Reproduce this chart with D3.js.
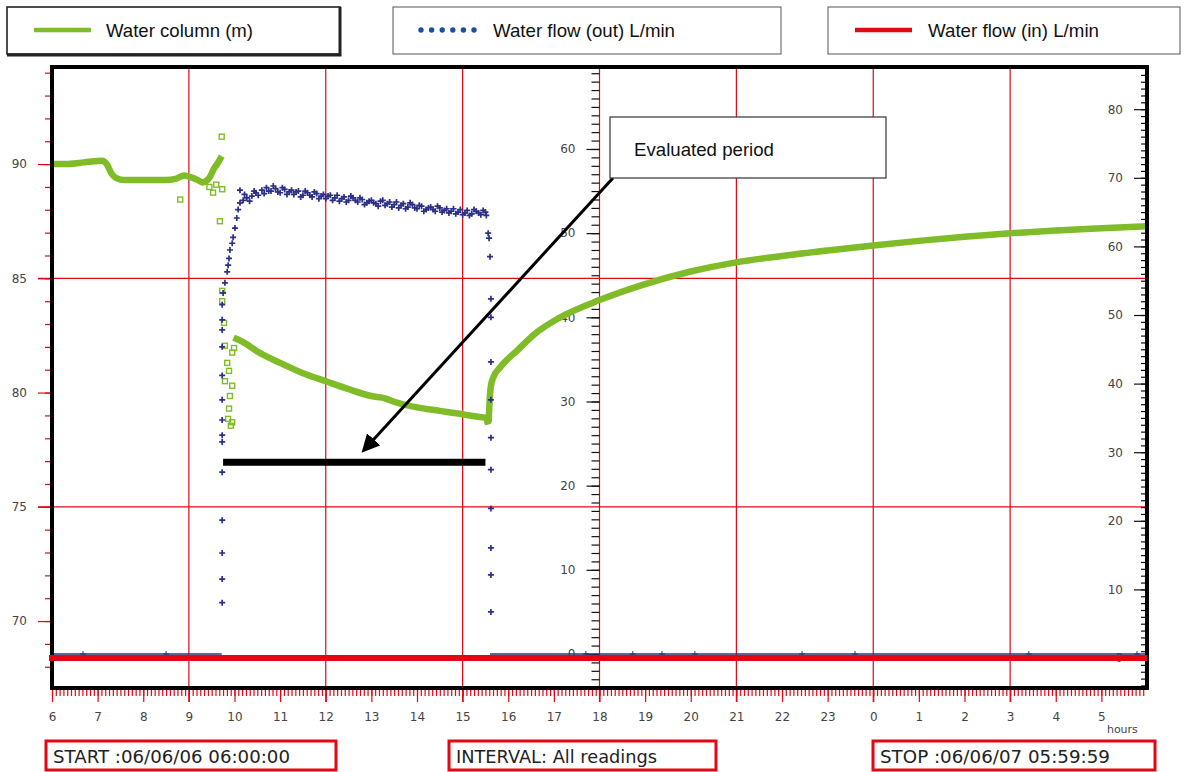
<!DOCTYPE html>
<html>
<head>
<meta charset="utf-8">
<script src="https://cdn.jsdelivr.net/npm/d3@7"></script>
<style>
  body { margin: 0; background: #fff; }
  svg { display: block; }
</style>
</head>
<body>
<script>
// ---- data ----
var hourTicks = d3.range(6, 30);           // 6 .. 5 (next day)
var gridHours = [9, 12, 15, 18, 21, 24, 27];
var gridLevels = [75, 85];                   // left axis horizontal grid

// water column (m), left axis : [hour, value]
var columnBefore = [[6.0,90.0],[6.3,90.0],[6.6,90.05],[6.8,90.1],[7.1,90.15],[7.2,90.0],[7.3,89.6],[7.4,89.4],
  [7.6,89.3],[8.0,89.3],[8.5,89.3],[8.7,89.35],[8.9,89.5],[9.0,89.45],[9.2,89.3],[9.3,89.2],[9.45,89.4],
  [9.55,89.8],[9.65,90.1],[9.72,90.35]];
var columnPumping = [[9.98,82.4],[10.2,82.2],[10.5,81.8],[11,81.3],[11.5,80.85],[12,80.5],[12.5,80.15],
  [13,79.85],[13.3,79.75],[13.5,79.6],[14,79.35],[14.5,79.2],[15,79.05],[15.3,78.95],[15.5,78.9],[15.56,78.6]];
var columnRecovery = [[15.57,78.7],[15.59,79.6],[15.62,80.3],[15.67,80.65],[15.82,81.1],[16.2,81.85],[16.6,82.6],
  [17.1,83.25],[18,84.05],[19,84.75],[20,85.3],[21,85.7],[22,85.98],[23,86.22],[24,86.44],[25,86.64],
  [26,86.82],[27,86.97],[28,87.09],[29,87.19],[30,87.28]];
var columnScatter = [[8.81,88.45],[9.68,87.5],[9.72,91.2],[9.53,88.75],[9.73,88.9],[9.6,89.1],[9.45,89.0],
  [9.73,84.45],[9.73,84.0],[9.77,83.05],[9.79,82.05],[9.95,81.75],[9.99,81.95],[9.84,81.3],[9.88,80.95],
  [9.79,80.5],[9.95,80.3],[9.9,79.85],[9.88,79.3],[9.86,78.85],[9.95,78.7],[9.92,78.55]];

// water flow (out) L/min, middle axis
var flowOutRise = [[9.73,6.1],[9.73,8.9],[9.73,12.0],[9.73,15.9],[9.73,21.6],[9.73,25.2],[9.73,26.0],
  [9.73,27.8],[9.73,30.2],[9.73,33.1],[9.73,36.5],[9.73,38.5],[9.73,39.7],[9.73,41.5],[9.75,42.9],
  [9.79,44.1],[9.84,45.4],[9.86,46.2],[9.88,47.0],[9.9,48.0],[9.95,48.8],[9.97,49.5],[10.01,50.6],
  [10.05,51.8],[10.08,52.8],[10.12,53.6],[10.12,55.1],[10.19,53.9],[10.27,54.2],[10.38,54.4],[10.47,54.8],
  [10.22,54.6],[10.33,53.8],[10.43,55.0],[10.52,54.5]];
var flowOutPlateau = [[10.6,55.1],[10.7,55.4],[10.8,55.0],[10.9,55.3],[11.0,54.8],[11.1,55.2],[11.2,54.9],
  [11.3,54.6],[11.4,55.0],[11.5,54.5],[11.6,54.8],[11.7,54.3],[11.8,54.7],[11.9,54.4],[12.0,54.1],
  [12.1,54.5],[12.2,54.2],[12.3,53.8],[12.4,54.3],[12.5,53.9],[12.6,54.2],[12.7,53.7],[12.8,54.0],
  [12.9,53.6],[13.0,53.9],[13.1,53.5],[13.2,53.8],[13.3,53.3],[13.4,53.7],[13.5,53.4],[13.6,53.0],
  [13.7,53.5],[13.8,53.1],[13.9,53.4],[14.0,52.9],[14.1,53.2],[14.2,52.8],[14.3,53.1],[14.4,52.6],
  [14.5,53.0],[14.6,52.7],[14.7,52.4],[14.8,52.9],[14.9,52.5],[15.0,52.2],[15.1,52.7],[15.2,52.3],
  [15.3,52.6],[15.4,52.2],[15.5,52.5]];
var flowOutPlateauB = [[10.65,54.7],[10.75,55.0],[10.85,55.6],[10.95,54.9],[11.05,55.4],[11.15,54.6],
  [11.25,55.1],[11.35,54.9],[11.45,54.3],[11.55,55.0],[11.65,54.5],[11.75,54.9],[11.85,54.1],[11.95,54.6],
  [12.05,54.4],[12.15,53.9],[12.25,54.5],[12.35,54.1],[12.45,53.7],[12.55,54.4],[12.65,53.9],[12.75,54.2],
  [12.85,53.4],[12.95,53.8],[13.05,53.6],[13.15,53.2],[13.25,53.9],[13.35,53.5],[13.45,53.1],[13.55,53.7],
  [13.65,53.3],[13.75,52.9],[13.85,53.6],[13.95,53.0],[14.05,53.3],[14.15,52.6],[14.25,53.0],[14.35,52.8],
  [14.45,53.2],[14.55,52.5],[14.65,52.9],[14.75,52.6],[14.85,52.3],[14.95,52.8],[15.05,52.4],[15.15,52.1],
  [15.25,52.8],[15.35,52.4],[15.45,52.7],[15.52,52.1]];
var flowOutDrop = [[15.56,50.0],[15.58,49.4],[15.6,47.2],[15.62,42.2],[15.62,40.0],[15.62,34.7],
  [15.62,30.2],[15.62,25.7],[15.62,21.9],[15.62,17.3],[15.62,12.6],[15.62,9.4],[15.62,5.0]];
var flowOutZero = [[6,0],[9.72,0]];
var flowOutZeroAfter = [[15.6,0],[30,0]];
var flowOutZeroMarks = [6.68, 8.5, 17.7, 18.73, 19.37, 20.09, 22.44, 23.6, 27.41, 29.78];

// water flow (in) L/min, right axis
var flowIn = [[6,0],[30,0]];

// evaluated period (hours)
var evaluated = [9.75, 15.5];

// ---- layout ----
var margin = {top: 67, right: 37, bottom: 84, left: 52},
    width = 1184 - margin.left - margin.right,
    height = 688 - margin.top;

var GREEN = "#80bc28", NAVY = "#2b2f86", RED = "#e30613";

var svg = d3.select("body").append("svg")
    .attr("width", 1184).attr("height", 772);

var g = svg.append("g")
    .attr("transform", "translate(" + margin.left + "," + margin.top + ")");

var x = d3.scaleLinear().domain([6, 30]).range([0, width]);
var yL = d3.scaleLinear().domain([67.07, 94.25]).range([height, 0]);
var yM = d3.scaleLinear().domain([-4.04, 69.74]).range([height, 0]);
var yR = d3.scaleLinear().domain([-4.37, 86.15]).range([height, 0]);

// grid
g.selectAll(".vgrid").data(gridHours).enter().append("line")
  .attr("x1", d => x(d)).attr("x2", d => x(d))
  .attr("y1", 0).attr("y2", height + 14)
  .attr("stroke", RED).attr("stroke-width", 1.2);
g.selectAll(".hgrid").data(gridLevels).enter().append("line")
  .attr("x1", -14).attr("x2", width)
  .attr("y1", d => yL(d)).attr("y2", d => yL(d))
  .attr("stroke", RED).attr("stroke-width", 1.2);

// axis styling
function styleAxis(sel, col) {
  sel.select(".domain").remove();
  sel.selectAll("line").attr("stroke", col).attr("stroke-width", 1.2);
  sel.selectAll("text").attr("fill", "#444")
    .style("font-family", "DejaVu Sans, Verdana, sans-serif").style("font-size", "12px");
}
// x axis: minor (5 min) + hour ticks
g.append("g").attr("transform", "translate(0," + height + ")")
  .call(d3.axisBottom(x).tickValues(d3.range(6, 30, 1 / 12)).tickSize(8).tickFormat(""))
  .call(s => styleAxis(s, RED));
g.append("g").attr("transform", "translate(0," + height + ")")
  .call(d3.axisBottom(x).tickValues(hourTicks).tickSize(14).tickPadding(10)
        .tickFormat(d => d % 24))
  .call(s => styleAxis(s, RED));
g.append("text").attr("x", x(29) + 21).attr("y", height + 45)
  .attr("text-anchor", "middle").attr("fill", "#444")
  .style("font-family", "DejaVu Sans, Verdana, sans-serif").style("font-size", "11px")
  .text("hours");

// left axis (red ticks)
g.append("g")
  .call(d3.axisLeft(yL).tickValues(d3.range(68, 95)).tickSize(7).tickFormat(""))
  .call(s => styleAxis(s, RED));
g.append("g")
  .call(d3.axisLeft(yL).tickValues([70, 75, 80, 85, 90]).tickSize(14).tickPadding(11))
  .call(s => styleAxis(s, RED));

// middle axis (flow out)
var gm = g.append("g").attr("transform", "translate(" + x(18) + ",0)");
gm.append("g")
  .call(d3.axisLeft(yM).tickValues(d3.range(-4, 70)).tickSize(8).tickFormat(""))
  .call(s => styleAxis(s, "#111"));
gm.append("g")
  .call(d3.axisLeft(yM).tickValues(d3.range(0, 61, 10)).tickSize(13).tickPadding(11))
  .call(s => styleAxis(s, "#111"));

// right axis (flow in)
var gr = g.append("g").attr("transform", "translate(" + width + ",0)");
gr.append("g")
  .call(d3.axisLeft(yR).tickValues(d3.range(-4, 87)).tickSize(6).tickFormat(""))
  .call(s => styleAxis(s, "#111"));
gr.append("g")
  .call(d3.axisLeft(yR).tickValues(d3.range(0, 81, 10)).tickSize(13).tickPadding(11))
  .call(s => styleAxis(s, "#111"));

// water column
var lineL = d3.line().x(d => x(d[0])).y(d => yL(d[1])).curve(d3.curveMonotoneX);
[columnBefore, columnPumping, columnRecovery].forEach(function (seg) {
  g.append("path").datum(seg).attr("d", lineL)
    .attr("fill", "none").attr("stroke", GREEN).attr("stroke-width", 6.5)
    .attr("stroke-linejoin", "round");
});
g.selectAll(".sq").data(columnScatter).enter().append("rect")
  .attr("x", d => x(d[0]) - 2.5).attr("y", d => yL(d[1]) - 2.5)
  .attr("width", 5).attr("height", 5)
  .attr("fill", "none").attr("stroke", GREEN).attr("stroke-width", 1.4);

// water flow out
var lineM = d3.line().x(d => x(d[0])).y(d => yM(d[1]));
[flowOutZero, flowOutZeroAfter].forEach(function (seg) {
  g.append("path").datum(seg).attr("d", lineM)
    .attr("fill", "none").attr("stroke", NAVY).attr("stroke-width", 1.5);
});
var cross = "M-3,0H3M0,-3V3";
g.selectAll(".plus").data(flowOutRise.concat(flowOutPlateau, flowOutPlateauB, flowOutDrop)).enter().append("path")
  .attr("d", cross)
  .attr("transform", d => "translate(" + x(d[0]) + "," + yM(d[1]) + ")")
  .attr("stroke", NAVY).attr("stroke-width", 1.7);
g.selectAll(".plus0").data(flowOutZeroMarks).enter().append("path")
  .attr("d", cross)
  .attr("transform", d => "translate(" + x(d) + "," + yM(0) + ")")
  .attr("stroke", NAVY).attr("stroke-width", 1);

// frame
g.append("rect").attr("x", 0).attr("y", 0).attr("width", width).attr("height", height)
  .attr("fill", "none").attr("stroke", "#000").attr("stroke-width", 4);

// water flow in (thick red on zero)
var lineR = d3.line().x(d => x(d[0])).y(d => yR(d[1]));
g.append("path").datum(flowIn).attr("d", lineR)
  .attr("fill", "none").attr("stroke", RED).attr("stroke-width", 6)
  .attr("transform", "scale(1.003,1) translate(-3,0)");

// evaluated period bar
g.append("rect")
  .attr("x", x(evaluated[0])).attr("y", yL(76.95) - 3.5)
  .attr("width", x(evaluated[1]) - x(evaluated[0])).attr("height", 7)
  .attr("fill", "#000");

// annotation box + arrow
svg.append("defs").append("marker").attr("id", "arr")
  .attr("viewBox", "0 0 10 10").attr("refX", 8).attr("refY", 5)
  .attr("markerWidth", 6).attr("markerHeight", 6).attr("orient", "auto")
  .append("path").attr("d", "M0,0L10,5L0,10Z").attr("fill", "#000");
svg.append("line").attr("x1", 613).attr("y1", 178).attr("x2", 364).attr("y2", 450)
  .attr("stroke", "#000").attr("stroke-width", 3).attr("marker-end", "url(#arr)");
svg.append("rect").attr("x", 610).attr("y", 117).attr("width", 276).attr("height", 61)
  .attr("fill", "#fff").attr("stroke", "#333").attr("stroke-width", 1.2);
svg.append("text").attr("x", 634).attr("y", 156)
  .attr("textLength", 140).attr("lengthAdjust", "spacingAndGlyphs")
  .style("font-family", "Liberation Sans, Arial, sans-serif").style("font-size", "19px")
  .attr("fill", "#111").text("Evaluated period");

// legend
var legend = [
  {label: "Water column (m)", x: 7, w: 333, tx: 106, tl: 147, kind: "line", col: GREEN},
  {label: "Water flow (out) L/min", x: 393, w: 388, tx: 493, tl: 182, kind: "dots", col: "#1d4f9f"},
  {label: "Water flow (in) L/min", x: 828, w: 352, tx: 928, tl: 171, kind: "line", col: RED}
];
legend.forEach(function (d, i) {
  var lg = svg.append("g");
  lg.append("rect").attr("x", d.x).attr("y", 7).attr("width", d.w).attr("height", 47)
    .attr("fill", "#fff").attr("stroke", i === 0 ? "#222" : "#555").attr("stroke-width", i === 0 ? 1.6 : 1);
  if (i === 0) {
    lg.append("path").attr("d", "M" + (d.x + d.w) + ",7V55H" + d.x)
      .attr("fill", "none").attr("stroke", "#222").attr("stroke-width", 3);
  }
  if (d.kind === "line") {
    lg.append("line").attr("x1", d.x + 27).attr("x2", d.x + 84).attr("y1", 30).attr("y2", 30)
      .attr("stroke", d.col).attr("stroke-width", 4.5);
  } else {
    lg.selectAll("circle").data(d3.range(6)).enter().append("circle")
      .attr("cx", k => d.x + 28 + k * 10.6).attr("cy", 30).attr("r", 2.7).attr("fill", d.col);
  }
  lg.append("text").attr("x", d.tx).attr("y", 37)
    .attr("textLength", d.tl).attr("lengthAdjust", "spacingAndGlyphs")
    .style("font-family", "Liberation Sans, Arial, sans-serif").style("font-size", "19px")
    .attr("fill", "#111").text(d.label);
});

// bottom info boxes
var info = [
  {label: "START :06/06/06 06:00:00", x: 46, w: 290, tl: 237},
  {label: "INTERVAL: All readings", x: 449, w: 267, tl: 201},
  {label: "STOP :06/06/07 05:59:59", x: 873, w: 282, tl: 230}
];
info.forEach(function (d) {
  svg.append("rect").attr("x", d.x).attr("y", 741).attr("width", d.w).attr("height", 29)
    .attr("fill", "#fff").attr("stroke", RED).attr("stroke-width", 3);
  svg.append("text").attr("x", d.x + 7).attr("y", 763)
    .attr("textLength", d.tl).attr("lengthAdjust", "spacingAndGlyphs")
    .style("font-family", "DejaVu Sans, Verdana, sans-serif").style("font-size", "17px")
    .attr("fill", "#222").text(d.label);
});
</script>
</body>
</html>
